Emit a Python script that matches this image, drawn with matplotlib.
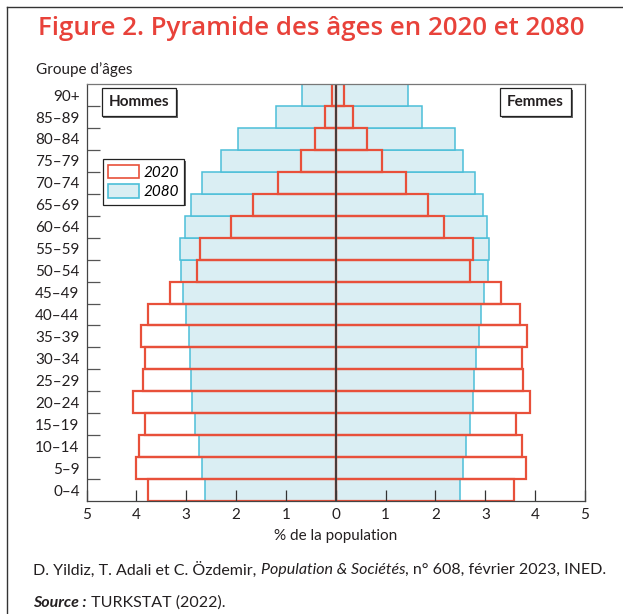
import matplotlib
matplotlib.use('Agg')
import matplotlib.pyplot as plt
from matplotlib import font_manager
from matplotlib.patches import Patch
from matplotlib import patheffects
import numpy as np

# age groups, bottom to top
groups = ['0–4', '5–9', '10–14', '15–19', '20–24', '25–29', '30–34', '35–39', '40–44',
          '45–49', '50–54', '55–59', '60–64', '65–69', '70–74', '75–79', '80–84', '85–89', '90+']

# % of population
men_2020 = [3.76, 4.01, 3.94, 3.83, 4.07, 3.87, 3.83, 3.91, 3.76,
            3.33, 2.78, 2.72, 2.11, 1.67, 1.15, 0.70, 0.41, 0.22, 0.07]
men_2080 = [2.62, 2.68, 2.75, 2.83, 2.88, 2.90, 2.92, 2.95, 3.00,
            3.06, 3.11, 3.12, 3.03, 2.91, 2.68, 2.31, 1.97, 1.20, 0.67]
women_2020 = [3.57, 3.81, 3.73, 3.62, 3.90, 3.75, 3.73, 3.84, 3.69,
              3.32, 2.70, 2.76, 2.17, 1.84, 1.41, 0.92, 0.62, 0.34, 0.17]
women_2080 = [2.49, 2.55, 2.61, 2.69, 2.75, 2.78, 2.82, 2.87, 2.91,
              2.97, 3.05, 3.07, 3.03, 2.95, 2.80, 2.55, 2.39, 1.73, 1.45]

x_ticks = [-5, -4, -3, -2, -1, 0, 1, 2, 3, 4, 5]

available = {f.name for f in font_manager.fontManager.ttflist}
narrow = 'Liberation Sans Narrow' if 'Liberation Sans Narrow' in available else 'Lato'
plt.rcParams['font.family'] = [narrow, 'DejaVu Sans']

RED = '#e8503a'
BLUE_EDGE = '#4cbfd8'
BLUE_FILL = '#daeef3'
TEXT = '#231f20'

fig = plt.figure(figsize=(6.23, 6.14), dpi=100)
ax = fig.add_axes([0.139, 0.184, 0.800, 0.679])

y = np.arange(len(groups))
ax.barh(y, [-v for v in men_2080], height=1, color=BLUE_FILL, edgecolor=BLUE_EDGE, linewidth=1.1)
ax.barh(y, women_2080, height=1, color=BLUE_FILL, edgecolor=BLUE_EDGE, linewidth=1.1)
ax.barh(y, [-v for v in men_2020], height=1, fill=False, edgecolor=RED, linewidth=1.6)
ax.barh(y, women_2020, height=1, fill=False, edgecolor=RED, linewidth=1.6)
ax.axvline(0, color='#3a3a3a', linewidth=1.3)

ax.set_xlim(-5, 5)
ax.set_ylim(-0.5, len(groups) - 0.5)
ax.set_xticks(x_ticks)
ax.set_xticklabels([str(abs(t)) for t in x_ticks])
ax.tick_params(axis='x', direction='in', length=8, width=0.9, color='#333333',
               labelsize=11, labelcolor=TEXT, pad=5)
ax.set_yticks(y[:-1] + 0.5)
ax.set_yticklabels([])
ax.set_yticks(y, minor=True)
ax.set_yticklabels(groups, minor=True)
ax.tick_params(axis='y', which='major', direction='in', length=9, width=0.9, color='#555555')
ax.tick_params(axis='y', which='minor', length=0, labelsize=11, labelcolor=TEXT, pad=5)
for s in ax.spines.values():
    s.set_color('#444444')
    s.set_linewidth(0.9)
ax.spines['top'].set_color('#777777')

ax.set_xlabel('% de la population', fontsize=11, color=TEXT, labelpad=5)

shadow = [patheffects.SimplePatchShadow(offset=(1.2, -1.2), shadow_rgbFace='#555555', alpha=0.9),
          patheffects.Normal()]
for label, xpos in [('Hommes', 0.105), ('Femmes', 0.901)]:
    t = ax.text(xpos, 0.957, label, transform=ax.transAxes, ha='center', va='center',
                fontsize=11, fontweight='bold', color=TEXT,
                bbox=dict(boxstyle='square,pad=0.45', fc='white', ec='#222222', lw=0.9))
    t.get_bbox_patch().set_path_effects(shadow)

handles = [Patch(facecolor='white', edgecolor=RED, linewidth=1.2, label='2020'),
           Patch(facecolor=BLUE_FILL, edgecolor=BLUE_EDGE, linewidth=1.2, label='2080')]
leg = ax.legend(handles=handles, loc='upper left', bbox_to_anchor=(0.033, 0.82),
                borderaxespad=0, fancybox=False, framealpha=1, edgecolor='#222222',
                prop={'style': 'italic', 'size': 11}, handlelength=2.0, handleheight=1.0,
                handletextpad=0.3, labelspacing=0.3, borderpad=0.35)
leg.get_frame().set_linewidth(0.9)
leg.get_frame().set_path_effects(shadow)

fig.text(0.5, 0.953, 'Figure 2. Pyramide des âges en 2020 et 2080', ha='center', va='center',
         fontsize=18.6, fontweight='semibold', color='#e8423a', family=['Open Sans', 'DejaVu Sans'])
fig.text(0.058, 0.886, 'Groupe d’âges', ha='left', va='center', fontsize=11, color=TEXT)

# footer, written piece by piece to mix styles, sized to fit its width
renderer = fig.canvas.get_renderer()

def write_line(parts, x, ypos, size):
    items = []
    for txt, style, weight in parts:
        t = fig.text(x, ypos, txt, ha='left', va='center', fontsize=size,
                     style=style, fontweight=weight, color=TEXT)
        bb = t.get_window_extent(renderer=renderer)
        x += bb.width / fig.bbox.width
        items.append(t)
    return items, x

line1 = [('D. Yildiz, T. Adali et C. Özdemir, ', 'normal', 'normal'),
         ('Population & Sociétés', 'italic', 'normal'),
         (', n° 608, février 2023, INED.', 'normal', 'normal')]
items, x_end = write_line(line1, 0.053, 0.072, 12)
size = 12 * (0.965 - 0.053) / (x_end - 0.053)
for t in items:
    t.remove()
write_line(line1, 0.053, 0.072, size)
write_line([('Source :', 'italic', 'bold'),
            (' TURKSTAT (2022).', 'normal', 'normal')], 0.053, 0.018, size)

# page frame (left and top edges)
fig.add_artist(plt.Line2D([0.0113, 0.0113], [0, 0.9886], color='#333333', lw=1.0))
fig.add_artist(plt.Line2D([0.0113, 1.0], [0.9886, 0.9886], color='#333333', lw=1.0))

fig.savefig('out.png', dpi=100)
